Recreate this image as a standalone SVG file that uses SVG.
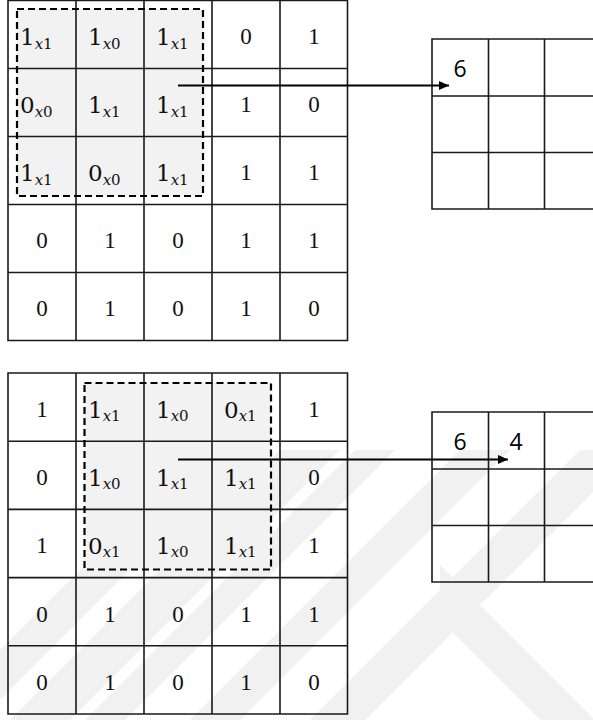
<svg xmlns="http://www.w3.org/2000/svg" width="593" height="720" viewBox="0 0 593 720">
  <defs>
    <style>
      .grid { fill: none; stroke: #1a1a1a; stroke-width: 1.6; }
      .win { fill: #f2f2f2; stroke: none; }
      .dash { fill: none; stroke: #000; stroke-width: 2.2; stroke-dasharray: 7 4; }
      .n { font-family: "Liberation Serif", "Times New Roman", serif; font-size: 23px; fill: #111; text-anchor: middle; }
      .m { font-family: "DejaVu Serif", "Liberation Serif", serif; font-size: 23px; fill: #111; }
      .s { font-size: 15px; }
      .i { font-style: italic; }
      .o { font-family: "Open Sans", "Noto Sans", sans-serif; font-size: 23px; fill: #000; text-anchor: middle; }
      .arrow { stroke: #000; stroke-width: 2; fill: none; marker-end: url(#ah); }
      .wm { fill: #f1f1f1; stroke: none; }
    </style>
    <marker id="ah" markerUnits="userSpaceOnUse" markerWidth="11" markerHeight="10" refX="10" refY="4.5" orient="auto">
      <path d="M0,0 L10,4.5 L0,9 z" fill="#000"/>
    </marker>
    <clipPath id="wmclip">
      <rect x="0" y="450" width="593" height="270"/>
    </clipPath>
  </defs>

  <rect x="0" y="0" width="593" height="720" fill="#ffffff"/>

  <!-- faint watermark -->
  <g id="watermark" clip-path="url(#wmclip)">
    <polygon class="wm" points="0,650 0,700 700,0 650,0"/>
    <polygon class="wm" points="0,730 0,790 790,0 730,0"/>
    <polygon class="wm" points="0,805 0,845 845,0 805,0"/>
    <polygon class="wm" points="0,910 0,960 960,0 910,0"/>
    <polygon class="wm" points="0,1030 0,1085 1085,0 1030,0"/>
    <polygon class="wm" points="440,565 593,718 593,773 440,620"/>
  </g>

  <!-- top input grid -->
  <g id="input-top">
    <rect class="win" x="17" y="9" width="186" height="187"/>
    <path class="grid" d="M8,0.5 H347.5 V340.5 H8 Z M76,0.5 V340.5 M144,0.5 V340.5 M212,0.5 V340.5 M280,0.5 V340.5 M8,68.5 H347.5 M8,136.5 H347.5 M8,204.5 H347.5 M8,272.5 H347.5"/>
    <text class="m" x="20" y="45">1<tspan class="s" dy="3.5"><tspan class="i">x</tspan>1</tspan></text>
    <text class="m" x="88" y="45">1<tspan class="s" dy="3.5"><tspan class="i">x</tspan>0</tspan></text>
    <text class="m" x="156" y="45">1<tspan class="s" dy="3.5"><tspan class="i">x</tspan>1</tspan></text>
    <text class="n" x="246" y="44">0</text>
    <text class="n" x="314" y="44">1</text>

    <text class="m" x="20" y="113">0<tspan class="s" dy="3.5"><tspan class="i">x</tspan>0</tspan></text>
    <text class="m" x="88" y="113">1<tspan class="s" dy="3.5"><tspan class="i">x</tspan>1</tspan></text>
    <text class="m" x="156" y="113">1<tspan class="s" dy="3.5"><tspan class="i">x</tspan>1</tspan></text>
    <text class="n" x="246" y="112">1</text>
    <text class="n" x="314" y="112">0</text>

    <text class="m" x="20" y="181">1<tspan class="s" dy="3.5"><tspan class="i">x</tspan>1</tspan></text>
    <text class="m" x="88" y="181">0<tspan class="s" dy="3.5"><tspan class="i">x</tspan>0</tspan></text>
    <text class="m" x="156" y="181">1<tspan class="s" dy="3.5"><tspan class="i">x</tspan>1</tspan></text>
    <text class="n" x="246" y="180">1</text>
    <text class="n" x="314" y="180">1</text>

    <text class="n" x="42" y="248">0</text>
    <text class="n" x="110" y="248">1</text>
    <text class="n" x="178" y="248">0</text>
    <text class="n" x="246" y="248">1</text>
    <text class="n" x="314" y="248">1</text>

    <text class="n" x="42" y="316">0</text>
    <text class="n" x="110" y="316">1</text>
    <text class="n" x="178" y="316">0</text>
    <text class="n" x="246" y="316">1</text>
    <text class="n" x="314" y="316">0</text>
    <rect class="dash" x="17" y="9" width="186" height="187"/>
  </g>

  <!-- top output grid -->
  <g id="output-top">
    <path class="grid" d="M601,39 H432 V209 H601 M488.5,39 V209 M544.5,39 V209 M432,96 H601 M432,152.5 H601"/>
    <text class="o" x="460" y="77">6</text>
  </g>

  <!-- bottom input grid -->
  <g id="input-bottom">
    <rect class="win" x="84.5" y="383" width="186.5" height="186.5"/>
    <path class="grid" d="M8,373 H347.5 V714 H8 Z M76,373 V714 M144,373 V714 M212,373 V714 M280,373 V714 M8,441.2 H347.5 M8,509.4 H347.5 M8,577.6 H347.5 M8,645.8 H347.5"/>
    <text class="n" x="42" y="417">1</text>
    <text class="m" x="88" y="417.5">1<tspan class="s" dy="3.5"><tspan class="i">x</tspan>1</tspan></text>
    <text class="m" x="156" y="417.5">1<tspan class="s" dy="3.5"><tspan class="i">x</tspan>0</tspan></text>
    <text class="m" x="224" y="417.5">0<tspan class="s" dy="3.5"><tspan class="i">x</tspan>1</tspan></text>
    <text class="n" x="314" y="417">1</text>

    <text class="n" x="42" y="485.2">0</text>
    <text class="m" x="88" y="485.7">1<tspan class="s" dy="3.5"><tspan class="i">x</tspan>0</tspan></text>
    <text class="m" x="156" y="485.7">1<tspan class="s" dy="3.5"><tspan class="i">x</tspan>1</tspan></text>
    <text class="m" x="224" y="485.7">1<tspan class="s" dy="3.5"><tspan class="i">x</tspan>1</tspan></text>
    <text class="n" x="314" y="485.2">0</text>

    <text class="n" x="42" y="553.4">1</text>
    <text class="m" x="88" y="553.9">0<tspan class="s" dy="3.5"><tspan class="i">x</tspan>1</tspan></text>
    <text class="m" x="156" y="553.9">1<tspan class="s" dy="3.5"><tspan class="i">x</tspan>0</tspan></text>
    <text class="m" x="224" y="553.9">1<tspan class="s" dy="3.5"><tspan class="i">x</tspan>1</tspan></text>
    <text class="n" x="314" y="553.4">1</text>

    <text class="n" x="42" y="621.6">0</text>
    <text class="n" x="110" y="621.6">1</text>
    <text class="n" x="178" y="621.6">0</text>
    <text class="n" x="246" y="621.6">1</text>
    <text class="n" x="314" y="621.6">1</text>

    <text class="n" x="42" y="689.8">0</text>
    <text class="n" x="110" y="689.8">1</text>
    <text class="n" x="178" y="689.8">0</text>
    <text class="n" x="246" y="689.8">1</text>
    <text class="n" x="314" y="689.8">0</text>
    <rect class="dash" x="84.5" y="383" width="186.5" height="186.5"/>
  </g>

  <!-- bottom output grid -->
  <g id="output-bottom">
    <path class="grid" d="M601,412 H432 V582 H601 M488.5,412 V582 M544.5,412 V582 M432,469 H601 M432,525.5 H601"/>
    <text class="o" x="460" y="450">6</text>
    <text class="o" x="516" y="450">4</text>
  </g>

  <!-- connectors -->
  <g id="connectors">
    <line class="arrow" x1="178" y1="85.5" x2="449" y2="85.5"/>
    <line class="arrow" x1="178" y1="459.5" x2="508" y2="459.5"/>
  </g>
</svg>
